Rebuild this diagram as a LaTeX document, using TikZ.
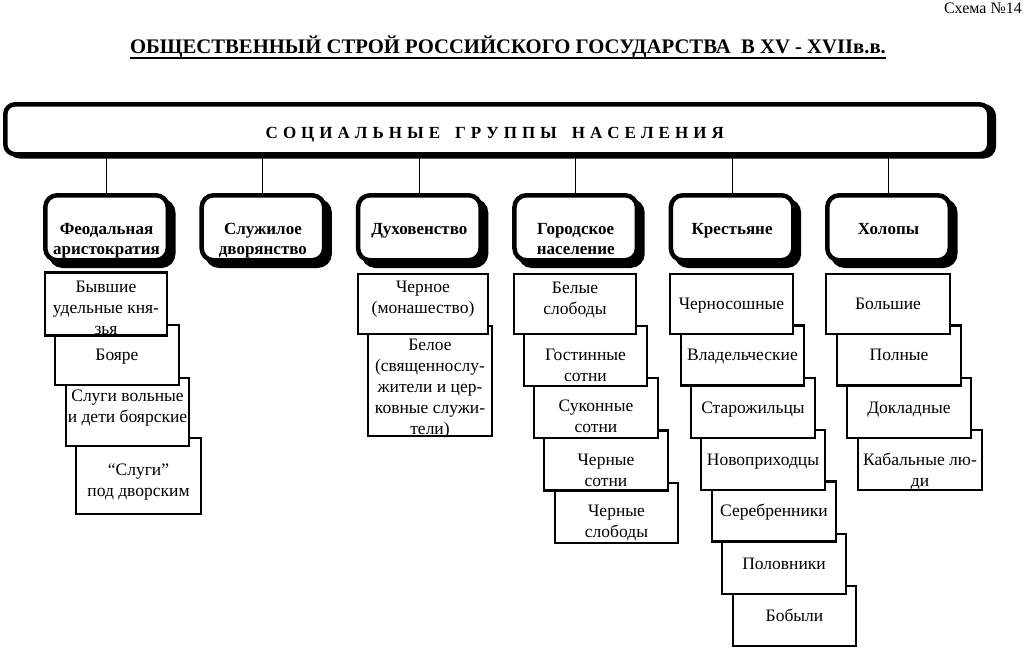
\documentclass[tikz,border=0pt]{standalone}
\usepackage{fontspec}
\setmainfont{Liberation Serif}

% letters with a gap after each one
\def\sprd#1{\ifx#1\relax\else#1\kern5pt\expandafter\sprd\fi}
% lines of a box, lowered by #1
\newcommand{\dn}[2]{\raisebox{-#1}[\height][\depth]{\begin{tabular}{@{}c@{}}#2\end{tabular}}}

\tikzset{
  hdr/.style={draw, fill=white, line width=4.5pt, rounded corners=10pt,
    minimum width=984pt, minimum height=50pt, inner sep=0pt,
    preaction={draw, fill=black, line width=4.5pt, transform canvas={shift={(4.5pt,-2pt)}}}},
  grp/.style={draw, fill=white, line width=4.5pt, rounded corners=12pt,
    minimum width=122.5pt, minimum height=65pt, inner sep=0pt,
    font=\fontsize{17}{20}\selectfont\bfseries,
    preaction={draw, fill=black, line width=4.5pt, transform canvas={shift={(5.5pt,-5.5pt)}}}},
  sub/.style={draw, fill=white, line width=2.4pt, minimum width=123.5pt,
    minimum height=60pt, inner sep=0pt, font=\fontsize{17.5}{21}\selectfont},
  link/.style={line width=1pt}
}

\begin{document}
\begin{tikzpicture}[x=1pt,y=-1pt]
\useasboundingbox (0,0) rectangle (1024,649);

% title
\node[anchor=base east, inner sep=0pt, font=\fontsize{16}{19}\selectfont] (num) at (1022,13) {Схема №14};
\node[anchor=base, inner sep=0pt, font=\fontsize{20.7}{24}\selectfont\bfseries] (title) at (508,53)
  {ОБЩЕСТВЕННЫЙ СТРОЙ РОССИЙСКОГО ГОСУДАРСТВА\ \ В XV - XVIIв.в.};
\draw[line width=2.2pt] ([yshift=-5pt]title.base west) -- ([yshift=-5pt]title.base east);

% header
\node[hdr, text height=17.5pt, text depth=0pt, font=\fontsize{17}{20}\selectfont\bfseries] (soc) at (497.25,129.25)
  {\sprd СОЦИАЛЬНЫЕ\relax\hspace{10pt}\sprd ГРУППЫ\relax\hspace{10pt}\sprd НАСЕЛЕНИЯ\relax};

% groups
\node[grp] (feod) at (106.5,227.75) {\dn{13pt}{Феодальная\\аристократия}};
\node[grp] (dvor) at (262.9,227.75) {\dn{13pt}{Служилое\\дворянство}};
\node[grp] (duh) at (419.3,227.75) {\dn{3pt}{Духовенство}};
\node[grp] (gor) at (575.7,227.75) {\dn{13pt}{Городское\\население}};
\node[grp] (krest) at (732.1,227.75) {\dn{3pt}{Крестьяне}};
\node[grp] (hol) at (888.5,227.75) {\dn{3pt}{Холопы}};

\draw[link] (feod.north) -- (feod.north |- soc.south);
\draw[link] (dvor.north) -- (dvor.north |- soc.south);
\draw[link] (duh.north) -- (duh.north |- soc.south);
\draw[link] (gor.north) -- (gor.north |- soc.south);
\draw[link] (krest.north) -- (krest.north |- soc.south);
\draw[link] (hol.north) -- (hol.north |- soc.south);

% feudal aristocracy
\node[sub, minimum width=124.5pt, minimum height=75.5pt] (f4) at (138.5,476) {\dn{6pt}{“Слуги”\\под дворским}};
\node[sub, minimum width=122.5pt, minimum height=67.5pt] (f3) at (127.5,412) {\dn{-4pt}{Слуги вольные\\и дети боярские}};
\node[sub] (f2) at (117,355) {\dn{1pt}{Бояре}};
\node[sub, minimum width=121.5pt] (f1) at (106,304) {\dn{5pt}{Бывшие\\удельные кня-\\зья}};

% clergy
\node[sub, minimum height=109.5pt] (d2) at (430,381) {\dn{7pt}{Белое\\(священнослу-\\жители и цер-\\ковные служи-\\тели)}};
\node[sub, minimum width=129.5pt] (d1) at (423,304) {\dn{-5pt}{Черное\\(монашество)}};

% town people
\node[sub, minimum width=123pt] (g5) at (616.5,513) {\dn{9.5pt}{Черные\\слободы}};
\node[sub] (g4) at (606,460.5) {\dn{11.5pt}{Черные\\сотни}};
\node[sub] (g3) at (596,408) {\dn{10pt}{Суконные\\сотни}};
\node[sub] (g2) at (585.5,356) {\dn{11pt}{Гостинные\\сотни}};
\node[sub, minimum width=121.5pt] (g1) at (575,304) {\dn{-4pt}{Белые\\слободы}};

% peasants
\node[sub] (k7) at (794.5,616) {\dn{1pt}{Бобыли}};
\node[sub] (k6) at (784,564) {\dn{1pt}{Половники}};
\node[sub] (k5) at (774,511.5) {\dn{1pt}{Серебренники}};
\node[sub] (k4) at (763,460) {\dn{1pt}{Новоприходцы}};
\node[sub] (k3) at (753,408) {\dn{1pt}{Старожильцы}};
\node[sub] (k2) at (742.5,355.5) {\dn{1pt}{Владельческие}};
\node[sub] (k1) at (731.5,304) {\dn{1pt}{Черносошные}};

% bondmen
\node[sub] (h4) at (920,460) {\dn{11.5pt}{Кабальные лю-\\ди}};
\node[sub] (h3) at (909,408) {\dn{1pt}{Докладные}};
\node[sub] (h2) at (899,355.5) {\dn{1pt}{Полные}};
\node[sub] (h1) at (888,304) {\dn{1pt}{Большие}};
\end{tikzpicture}
\end{document}
